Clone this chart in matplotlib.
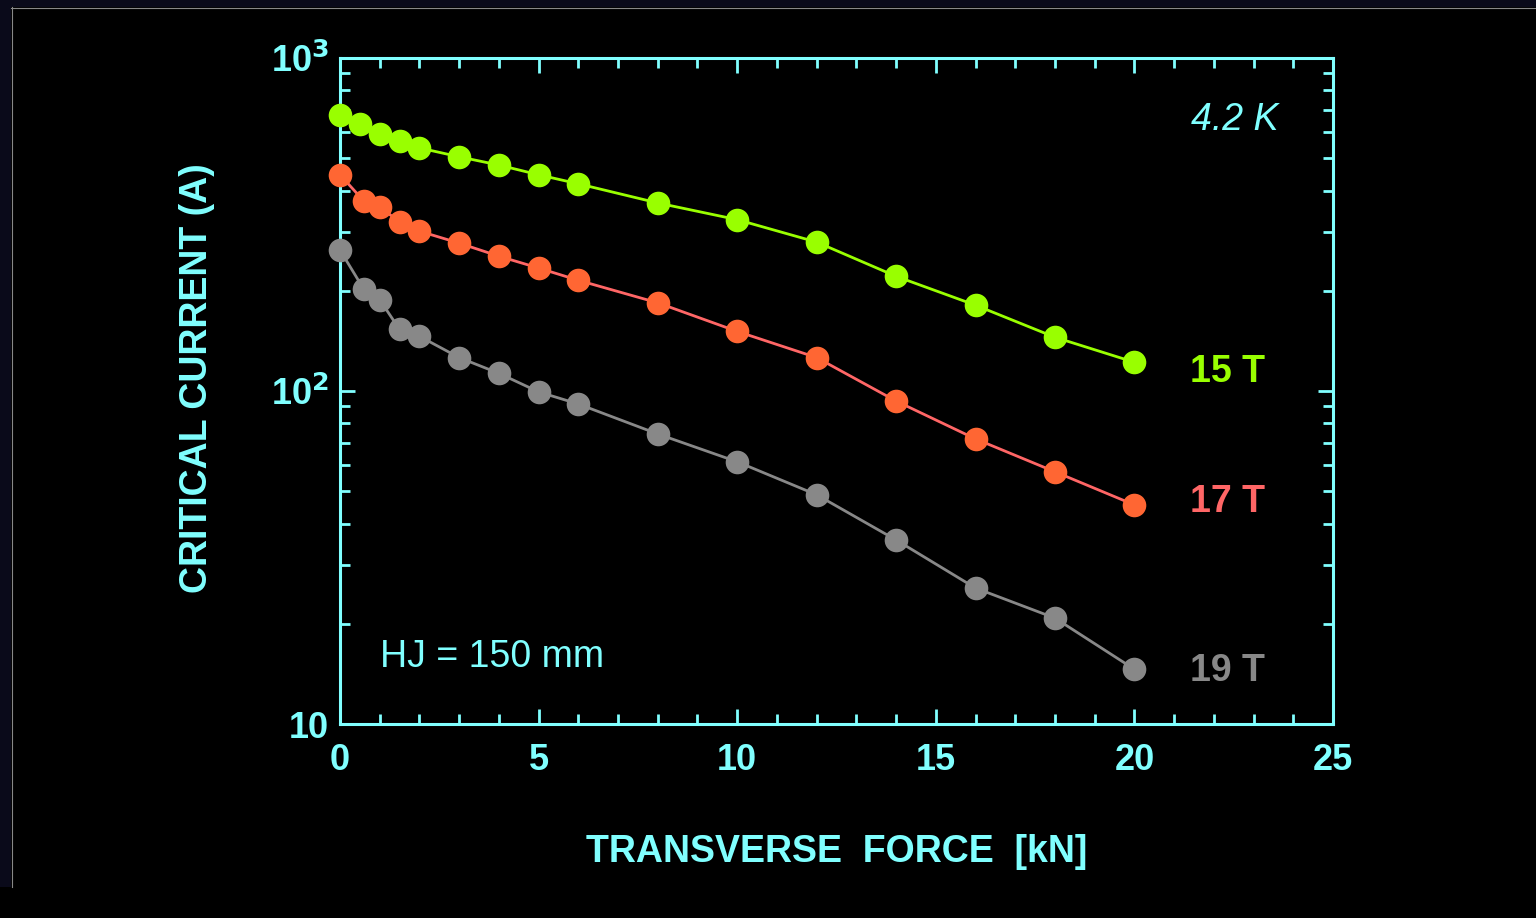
#!/usr/bin/env python3
"""
Critical current vs transverse force at 4.2 K, log scale.
"""

import matplotlib.pyplot as plt
from matplotlib.patches import Rectangle
from matplotlib.lines import Line2D
from matplotlib.ticker import FixedLocator, LogLocator, NullFormatter

plt.rcParams["font.family"] = ["Liberation Sans", "DejaVu Sans"]

# data
force_15 = [0, 0.5, 1, 1.5, 2, 3, 4, 5, 6, 8, 10, 12, 14, 16, 18, 20]
ic_15 = [674, 634, 592, 564, 537, 505, 477, 446, 419, 367, 327, 280, 221, 181, 145, 122]

force_17 = [0, 0.6, 1, 1.5, 2, 3, 4, 5, 6, 8, 10, 12, 14, 16, 18, 20]
ic_17 = [446, 372, 357, 322, 302, 278, 254, 234, 215, 184, 151, 126, 93.3, 71.8, 57.2, 45.5]

force_19 = [0, 0.6, 1, 1.5, 2, 3, 4, 5, 6, 8, 10, 12, 14, 16, 18, 20]
ic_19 = [265, 202, 188, 153, 146, 126, 113, 99.4, 91.4, 74.3, 61.3, 48.8, 35.7, 25.6, 20.8, 14.6]

series = [
    ("15 T", force_15, ic_15, "#99FF00", "#99FF00"),
    ("17 T", force_17, ic_17, "#FF6666", "#FF6633"),
    ("19 T", force_19, ic_19, "#888888", "#888888"),
]
label_y = [114, 46.4, 14.4]

cyan = "#80FFFF"

fig = plt.figure(figsize=(15.36, 9.18), dpi=100, facecolor="black")
W, H = 1536, 918

# screenshot frame: navy strips with a thin grey edge
fig.add_artist(Rectangle((0, 1 - 7 / H), 1, 7 / H, transform=fig.transFigure,
                         facecolor="#0a0a1a", edgecolor="none"))
fig.add_artist(Rectangle((0, 1 - 887 / H), 11 / W, 887 / H, transform=fig.transFigure,
                         facecolor="#0a0a1a", edgecolor="none"))
fig.add_artist(Line2D([11 / W, 1], [1 - 7.5 / H, 1 - 7.5 / H], transform=fig.transFigure,
                      color="#888888", lw=0.8))
fig.add_artist(Line2D([11.5 / W, 11.5 / W], [1 - 887 / H, 1 - 7 / H], transform=fig.transFigure,
                      color="#888888", lw=0.8))

# axes box: x 340..1333, y 58..724 pixels
ax = fig.add_axes([340 / W, 1 - 724 / H, (1333 - 340) / W, (724 - 58) / H])
ax.set_facecolor("black")

for name, x, y, lc, mc in series:
    ax.plot(x, y, color=lc, lw=2, zorder=2)
    ax.plot(x, y, "o", color=mc, markersize=17, markeredgewidth=0, clip_on=False, zorder=3)

ax.set_yscale("log")
ax.set_xlim(0, 25)
ax.set_ylim(10, 1000)

for s in ax.spines.values():
    s.set_color(cyan)
    s.set_linewidth(2.2)

ax.xaxis.set_major_locator(FixedLocator([0, 5, 10, 15, 20, 25]))
ax.xaxis.set_minor_locator(FixedLocator(range(26)))
ax.yaxis.set_major_locator(FixedLocator([10, 100, 1000]))
ax.yaxis.set_minor_locator(LogLocator(base=10, subs=range(2, 10)))
ax.yaxis.set_minor_formatter(NullFormatter())
ax.set_yticklabels(["10", "10$^{\\mathbf{2}}$", "10$^{\\mathbf{3}}$"])

ax.tick_params(which="both", direction="in", top=True, right=True, color=cyan, width=2)
ax.tick_params(which="major", length=11, labelsize=26, labelcolor=cyan)
ax.tick_params(which="minor", length=7)
ax.tick_params(axis="x", which="major", pad=14)
ax.tick_params(axis="y", which="major", pad=8)
for lab in ax.get_xticklabels() + ax.get_yticklabels():
    lab.set_fontweight("bold")

ax.set_xlabel("TRANSVERSE  FORCE  [kN]", color=cyan, fontsize=27, fontweight="bold", labelpad=40)
ax.set_ylabel("CRITICAL CURRENT (A)", color=cyan, fontsize=27, fontweight="bold", labelpad=40)
ax.yaxis.label.set_y(0.52)

# series labels at the right end of each curve
for (name, x, y, lc, mc), ly in zip(series, label_y):
    ax.text(21.4, ly, name, color=lc, fontsize=27, fontweight="bold", va="center", ha="left")

ax.text(23.62, 652, "4.2 K", color=cyan, fontsize=27, style="italic", va="center", ha="right")
ax.text(1.0, 15.9, "HJ = 150 mm", color=cyan, fontsize=27, va="center", ha="left")

fig.savefig("out.png", dpi=100, facecolor="black")
